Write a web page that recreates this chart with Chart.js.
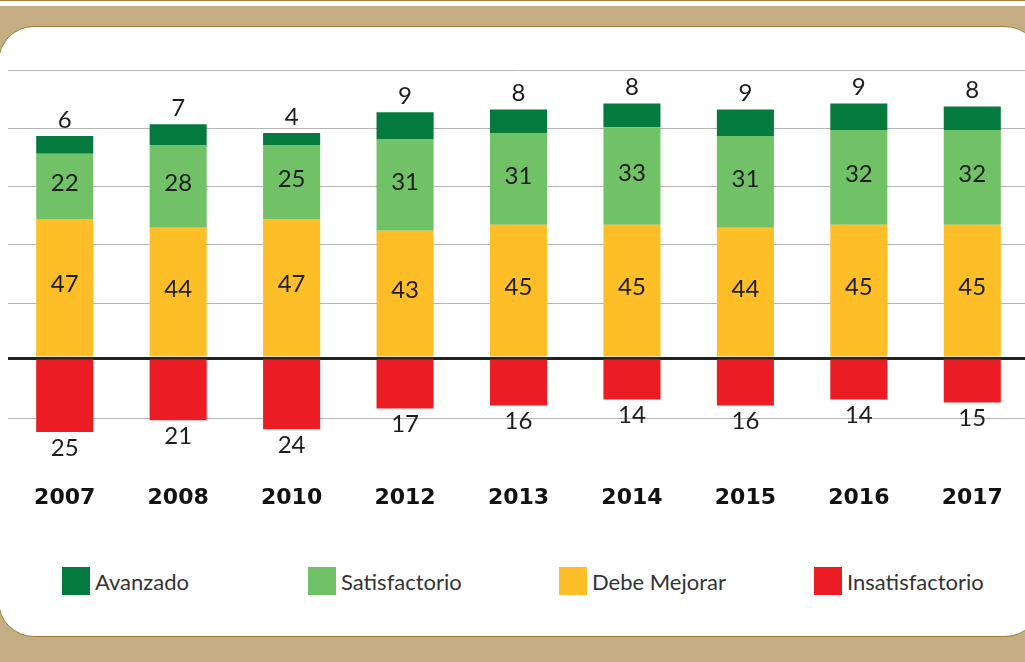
<!DOCTYPE html>
<html>
<head>
<meta charset="utf-8">
<script src="https://cdn.jsdelivr.net/npm/chart.js@4.4.1/dist/chart.umd.min.js"></script>
<style>
  html, body { margin: 0; padding: 0; }
  body {
    width: 1025px; height: 662px; overflow: hidden; position: relative;
    background: #c5ae83; font-family: "Lato", "Open Sans", sans-serif;
  }
  .top-strip {
    position: absolute; left: 0; top: 0; width: 1025px; height: 5px;
    background: #fff; border-top: 1px solid #a48334;
  }
  .panel {
    position: absolute; left: -2px; top: 26px; width: 1041px; height: 609px;
    background: #fff; border: 1.5px solid #9c7c35; border-radius: 36px;
  }
  .chart-box { position: absolute; left: 0; top: 0; width: 1040px; height: 520px; }
  .legend-item {
    position: absolute; top: 567px; height: 28px; display: flex; align-items: center;
    font-size: 22px; color: #333; white-space: nowrap;
  }
  .legend-box { width: 28px; height: 28px; margin-right: 5px; }
</style>
</head>
<body>
<div class="top-strip"></div>
<div class="panel"></div>
<div class="chart-box"><canvas id="chart" width="1040" height="520"></canvas></div>
<div id="legend"></div>

<script>
// --- Data ---
const years = ["2007", "2008", "2010", "2012", "2013", "2014", "2015", "2016", "2017"];
const avanzado = [6, 7, 4, 9, 8, 8, 9, 9, 8];
const satisfactorio = [22, 28, 25, 31, 31, 33, 31, 32, 32];
const debeMejorar = [47, 44, 47, 43, 45, 45, 44, 45, 45];
const insatisfactorio = [25, 21, 24, 17, 16, 14, 16, 14, 15];

// gridline values (the grid isn't on round numbers in the original)
const gridValues = [-20.5, 0, 18.6, 38.2, 57.8, 77.4, 97.0];

const COLORS = {
  avanzado: "#047a3e",
  satisfactorio: "#71c267",
  debe: "#fdbe28",
  insat: "#ec1c24",
};

// --- Value labels + year labels ---
const valueLabels = {
  id: "valueLabels",
  afterDatasetsDraw(chart) {
    const ctx = chart.ctx;
    ctx.save();
    ctx.font = "24px Lato, 'Open Sans', sans-serif";
    ctx.fillStyle = "#1d1d1d";
    ctx.textAlign = "center";
    ctx.textBaseline = "middle";
    chart.data.datasets.forEach((ds, di) => {
      const meta = chart.getDatasetMeta(di);
      meta.data.forEach((bar, i) => {
        const v = Math.abs(ds.data[i]);
        let y;
        if (ds.pos === "above") y = Math.min(bar.y, bar.base) - 16;
        else if (ds.pos === "below") y = Math.max(bar.y, bar.base) + 16;
        else y = (bar.y + bar.base) / 2 - 3;
        ctx.fillText(String(v), bar.x, y);
      });
    });

    // year labels under the bars
    const xScale = chart.scales.x;
    ctx.font = "bold 22px 'DejaVu Sans', sans-serif";
    ctx.fillStyle = "#111";
    chart.data.labels.forEach((lab, i) => {
      ctx.fillText(lab, xScale.getPixelForTick(i), chart.chartArea.bottom + 57);
    });
    ctx.restore();
  },
};

// --- Chart ---
const ctx = document.getElementById("chart").getContext("2d");
const chart = new Chart(ctx, {
  type: "bar",
  data: {
    labels: years,
    datasets: [
      { label: "Debe Mejorar", data: debeMejorar, backgroundColor: COLORS.debe, pos: "middle" },
      { label: "Satisfactorio", data: satisfactorio, backgroundColor: COLORS.satisfactorio, pos: "middle" },
      { label: "Avanzado", data: avanzado, backgroundColor: COLORS.avanzado, pos: "above" },
      { label: "Insatisfactorio", data: insatisfactorio.map(v => -v), backgroundColor: COLORS.insat, pos: "below" },
    ],
  },
  options: {
    responsive: false,
    animation: false,
    layout: { padding: { top: 62, bottom: 79, left: 8, right: 11 } },
    datasets: {
      bar: { barPercentage: 0.503, categoryPercentage: 1, borderWidth: 0 },
    },
    plugins: {
      legend: { display: false },
      tooltip: { enabled: false },
    },
    scales: {
      x: {
        stacked: true,
        grid: { display: false, drawTicks: false },
        border: { display: false },
        ticks: { display: false },
        afterFit: s => { s.height = 0; s.paddingLeft = 0; s.paddingRight = 0; },
      },
      y: {
        stacked: true,
        min: -28,
        max: 100,
        afterBuildTicks: axis => { axis.ticks = gridValues.map(v => ({ value: v })); },
        afterFit: s => { s.width = 0; },
        ticks: { display: false },
        border: { display: false },
        grid: {
          drawTicks: false,
          color: c => (c.tick && c.tick.value === 0 ? "#222" : "#b4b4b4"),
          lineWidth: c => (c.tick && c.tick.value === 0 ? 3 : 1),
        },
      },
    },
  },
  plugins: [valueLabels],
});

// --- Legend (HTML, in the original's order) ---
const legendItems = [
  { label: "Avanzado", color: COLORS.avanzado, left: 62 },
  { label: "Satisfactorio", color: COLORS.satisfactorio, left: 308 },
  { label: "Debe Mejorar", color: COLORS.debe, left: 559 },
  { label: "Insatisfactorio", color: COLORS.insat, left: 814 },
];
const legendEl = document.getElementById("legend");
legendItems.forEach(it => {
  const item = document.createElement("div");
  item.className = "legend-item";
  item.style.left = it.left + "px";
  const box = document.createElement("span");
  box.className = "legend-box";
  box.style.background = it.color;
  item.appendChild(box);
  item.appendChild(document.createTextNode(it.label));
  legendEl.appendChild(item);
});
</script>
</body>
</html>
